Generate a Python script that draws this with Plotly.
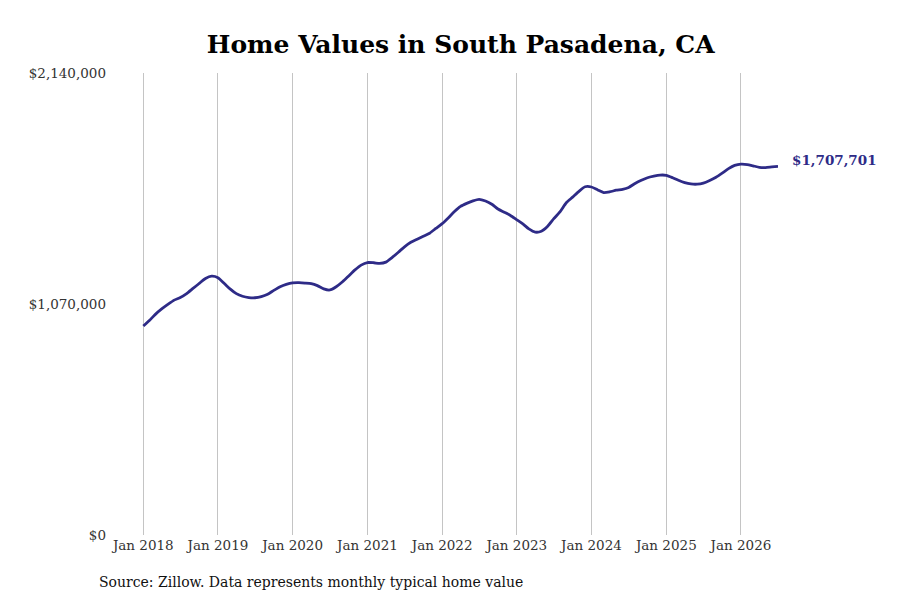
import plotly.graph_objects as go
import pandas as pd

# Monthly typical home value (USD), Jan 2018 .. Jul 2026
dates = pd.date_range("2018-01-01", periods=103, freq="MS")
values_k = [
    968, 995, 1022, 1047, 1068, 1088, 1100, 1118, 1142, 1165, 1188, 1199,   # 2018
    1192, 1165, 1140, 1118, 1106, 1100, 1099, 1104, 1115, 1133, 1150, 1161,  # 2019
    1168, 1169, 1167, 1164, 1155, 1140, 1135, 1150, 1173, 1200, 1228, 1250,  # 2020
    1262, 1261, 1258, 1264, 1285, 1310, 1335, 1356, 1370, 1384, 1398, 1420,  # 2021
    1442, 1470, 1497, 1522, 1536, 1548, 1555, 1547, 1532, 1510, 1495, 1480,  # 2022
    1460, 1440, 1418, 1403, 1407, 1430, 1465, 1498, 1540, 1565, 1592, 1613,  # 2023
    1612, 1598, 1586, 1590, 1597, 1601, 1610, 1628, 1643, 1655, 1662, 1667,  # 2024
    1666, 1655, 1643, 1632, 1626, 1625, 1630, 1642, 1657, 1676, 1697, 1712,  # 2025
    1718, 1716, 1710, 1703, 1702, 1705, 1707.701,                            # 2026
]
values = [v * 1000 for v in values_k]

y_ticks = [0, 1070000, 2140000]
y_tick_labels = ["$0", "$1,070,000", "$2,140,000"]
x_ticks = [f"{y}-01-01" for y in range(2018, 2027)]
x_tick_labels = [f"Jan {y}" for y in range(2018, 2027)]

title_text = "Home Values in South Pasadena, CA"
source_text = "Source: Zillow. Data represents monthly typical home value"
end_label = "$1,707,701"

line_color = "#2E2B87"
font_family = "DejaVu Serif"

fig = go.Figure()
fig.add_trace(go.Scatter(
    x=dates, y=values, mode="lines",
    line=dict(color=line_color, width=2.8, shape="spline", smoothing=0.6),
    hoverinfo="skip", showlegend=False,
))

fig.add_annotation(
    x=dates[-1], y=values[-1], text=f"<b>{end_label}</b>",
    showarrow=False, xanchor="left", yanchor="middle",
    xshift=12, yshift=6,
    font=dict(family=font_family, size=13.5, color=line_color),
)

fig.add_annotation(
    xref="paper", yref="paper", x=-0.0225, y=-0.102,
    text=source_text, showarrow=False, xanchor="left", yanchor="middle",
    font=dict(family=font_family, size=14, color="#111111"),
)

fig.update_layout(
    width=900, height=600,
    margin=dict(l=104, r=130, t=65, b=73),
    paper_bgcolor="white", plot_bgcolor="white",
    title=dict(
        text=f"<b>{title_text}</b>", xref="container", x=0.503, xanchor="center",
        yref="container", y=0.940, yanchor="middle",
        font=dict(family=font_family, size=25, color="#000000"),
    ),
    font=dict(family=font_family, size=13, color="#333333"),
    xaxis=dict(
        type="date", range=["2017-08-01", "2026-07-01"],
        tickvals=x_ticks, ticktext=x_tick_labels,
        showgrid=True, gridcolor="#c4c4c4", gridwidth=1,
        showline=False, zeroline=False, ticks="",
        tickfont=dict(family=font_family, size=13.5, color="#333333"),
    ),
    yaxis=dict(
        range=[0, 2140000], tickvals=y_ticks, ticktext=y_tick_labels,
        showgrid=False, zeroline=False, showline=False, ticks="",
        ticklabelstandoff=5,
        tickfont=dict(family=font_family, size=13.5, color="#333333"),
    ),
)

fig.write_html("out.html")
